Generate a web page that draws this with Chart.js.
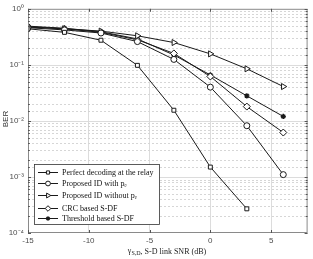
<!DOCTYPE html>
<html>
<head>
<meta charset="utf-8">
<script src="https://cdn.jsdelivr.net/npm/chart.js@4/dist/chart.umd.min.js"></script>
<style>
  html, body { margin: 0; padding: 0; background: #fff; }
  #wrap { width: 313px; height: 259px; }
</style>
</head>
<body>
<div id="wrap"><canvas id="berChart"></canvas></div>
<script>
// SNR points (dB) and BER curves
const snr = [-15, -12, -9, -6, -3, 0, 3, 6];
const perfectRelay = [0.44, 0.38, 0.275, 0.098, 0.0155, 0.0015, 0.00027];
const idWithPe = [0.46, 0.42, 0.37, 0.26, 0.125, 0.04, 0.0082, 0.0011];
const idWithoutPe = [0.47, 0.44, 0.40, 0.33, 0.25, 0.157, 0.085, 0.041];
const crcSdf = [0.48, 0.44, 0.38, 0.28, 0.16, 0.062, 0.018, 0.0062];
const thresholdSdf = [0.49, 0.45, 0.39, 0.29, 0.15, 0.066, 0.028, 0.012];
const legendLabels = [
    'Perfect decoding at the relay',
    'Proposed ID with p\u2091',
    'Proposed ID without p\u2091',
    'CRC based S-DF',
    'Threshold based S-DF'
];
const xTicks = [-15, -10, -5, 0, 5];

const lineColor = '#1a1a1a';
const sup = { '0': '\u2070', '1': '\u00b9', '2': '\u00b2', '3': '\u00b3', '4': '\u2074', '-': '\u207b' };
const isDecade = (v) => Math.abs(Math.log10(v) - Math.round(Math.log10(v))) < 1e-6;

const toPoints = (arr) => arr.map((v, i) => ({ x: snr[i], y: v }));

const makeSet = (label, data, style, extra) => Object.assign({
    label: label,
    data: toPoints(data),
    borderColor: lineColor,
    backgroundColor: '#fff',
    borderWidth: 1,
    pointStyle: style,
    pointRadius: 3,
    pointBorderWidth: 1,
    pointBorderColor: lineColor,
    pointBackgroundColor: '#fff',
    tension: 0
}, extra || {});

const datasets = [
    makeSet(legendLabels[0], perfectRelay, 'rect', { pointRadius: 2.8 }),
    makeSet(legendLabels[1], idWithPe, 'circle'),
    makeSet(legendLabels[2], idWithoutPe, 'triangle', { pointRotation: 90, pointRadius: 3.5 }),
    makeSet(legendLabels[3], crcSdf, 'rectRot', { pointRadius: 3.5 }),
    makeSet(legendLabels[4], thresholdSdf, 'star', { pointBorderWidth: 1.4, pointRadius: 2.6, pointBackgroundColor: lineColor })
];

function drawMarker(ctx, ds, x, y) {
    ctx.save();
    ctx.strokeStyle = lineColor;
    ctx.fillStyle = ds.pointBackgroundColor;
    ctx.lineWidth = ds.pointBorderWidth;
    Chart.helpers.drawPoint(ctx, {
        pointStyle: ds.pointStyle,
        radius: ds.pointRadius * 0.8,
        rotation: ds.pointRotation || 0,
        borderWidth: ds.pointBorderWidth
    }, x, y);
    ctx.restore();
}

// grid, box, inner ticks, legend and axis titles in MATLAB style
const matlabFrame = {
    id: 'matlabFrame',
    beforeDatasetsDraw(chart) {
        const { ctx, chartArea: a } = chart;
        const ys = chart.scales.y;
        ctx.save();
        ctx.lineWidth = 1;
        ys.ticks.forEach(t => {
            const py = Math.round(ys.getPixelForValue(t.value)) + 0.5;
            if (py <= a.top + 1 || py >= a.bottom - 1) return;
            if (isDecade(t.value)) {
                ctx.setLineDash([]);
                ctx.strokeStyle = '#dcdcdc';
            } else {
                ctx.setLineDash([2, 2]);
                ctx.strokeStyle = '#d6d6d6';
            }
            ctx.beginPath();
            ctx.moveTo(a.left, py);
            ctx.lineTo(a.right, py);
            ctx.stroke();
        });
        ctx.restore();
    },
    afterDraw(chart) {
        const { ctx, chartArea: a } = chart;
        const xs = chart.scales.x, ys = chart.scales.y;
        ctx.save();
        // box
        ctx.strokeStyle = '#8a8a8a';
        ctx.lineWidth = 1;
        ctx.strokeRect(a.left + 0.5, a.top + 0.5, a.right - a.left - 1, a.bottom - a.top - 1);
        // inner ticks
        ctx.strokeStyle = '#555';
        ys.ticks.forEach(t => {
            const py = Math.round(ys.getPixelForValue(t.value)) + 0.5;
            const len = isDecade(t.value) ? 3 : 1.8;
            ctx.beginPath();
            ctx.moveTo(a.left, py); ctx.lineTo(a.left + len, py);
            ctx.moveTo(a.right, py); ctx.lineTo(a.right - len, py);
            ctx.stroke();
        });
        xTicks.forEach(v => {
            const px = Math.round(xs.getPixelForValue(v)) + 0.5;
            ctx.beginPath();
            ctx.moveTo(px, a.bottom); ctx.lineTo(px, a.bottom - 3);
            ctx.moveTo(px, a.top); ctx.lineTo(px, a.top + 3);
            ctx.stroke();
        });

        // legend
        const lx = 34.5, ly = 164.5, lw = 125, lh = 60;
        ctx.fillStyle = '#fff';
        ctx.fillRect(lx, ly, lw, lh);
        ctx.strokeStyle = '#333';
        ctx.lineWidth = 0.8;
        ctx.strokeRect(lx, ly, lw, lh);
        const rows = [172, 183, 195, 208, 218];
        ctx.font = '8px "Liberation Serif", "Times New Roman", serif';
        ctx.textBaseline = 'middle';
        chart.data.datasets.forEach((ds, i) => {
            const ry = rows[i] + 0.5;
            ctx.strokeStyle = lineColor;
            ctx.lineWidth = 1;
            ctx.beginPath();
            ctx.moveTo(38, ry); ctx.lineTo(58, ry);
            ctx.stroke();
            drawMarker(ctx, ds, 48, ry);
            ctx.fillStyle = '#111';
            ctx.fillText(ds.label, 62, ry);
        });

        // y title
        ctx.save();
        ctx.translate(6, 119);
        ctx.rotate(-Math.PI / 2);
        ctx.font = '8px "Liberation Sans", Arial, sans-serif';
        ctx.fillStyle = '#333';
        ctx.textAlign = 'center';
        ctx.textBaseline = 'middle';
        ctx.fillText('BER', 0, 0);
        ctx.restore();

        // x title with subscript
        const ty = 252;
        ctx.fillStyle = '#222';
        ctx.textBaseline = 'middle';
        ctx.textAlign = 'left';
        const big = '8px "Liberation Serif", "Times New Roman", serif';
        const small = '6px "Liberation Serif", "Times New Roman", serif';
        ctx.font = big;
        const w1 = ctx.measureText('\u03b3').width;
        ctx.font = small;
        const w2 = ctx.measureText('S,D').width;
        ctx.font = big;
        const rest = ', S-D link SNR (dB)';
        const w3 = ctx.measureText(rest).width;
        let tx = 167 - (w1 + w2 + w3) / 2;
        ctx.fillText('\u03b3', tx, ty - 1);
        tx += w1;
        ctx.font = small;
        ctx.fillText('S,D', tx, ty + 1.5);
        tx += w2;
        ctx.font = big;
        ctx.fillText(rest, tx, ty);
        ctx.restore();
    }
};

new Chart(document.getElementById('berChart').getContext('2d'), {
    type: 'line',
    data: { datasets: datasets },
    options: {
        responsive: true,
        maintainAspectRatio: false,
        animation: false,
        layout: { padding: { top: 5, right: 1, left: 0, bottom: 0 } },
        plugins: {
            legend: { display: false },
            tooltip: { enabled: false }
        },
        scales: {
            x: {
                type: 'linear',
                min: -15,
                max: 8,
                afterFit: (s) => { s.height = 26; },
                afterBuildTicks: (s) => { s.ticks = xTicks.map(v => ({ value: v })); },
                grid: {
                    color: (c) => (c.tick && (c.tick.value === -15) ? 'rgba(0,0,0,0)' : '#dcdcdc'),
                    drawTicks: false
                },
                border: { display: false },
                ticks: {
                    padding: 3,
                    color: '#4d4d4d',
                    font: { size: 8, family: '"Liberation Sans", Arial, sans-serif' }
                }
            },
            y: {
                type: 'logarithmic',
                min: 1e-4,
                max: 1,
                afterFit: (s) => { s.width = 28; },
                grid: { display: false, drawTicks: false },
                border: { display: false },
                ticks: {
                    autoSkip: false,
                    padding: 4,
                    color: '#4d4d4d',
                    font: { size: 8, family: '"Liberation Sans", Arial, sans-serif' },
                    callback: (v) => {
                        if (!isDecade(v)) return '';
                        const e = String(Math.round(Math.log10(v)));
                        return '10' + e.split('').map(ch => sup[ch]).join('');
                    }
                }
            }
        }
    },
    plugins: [matlabFrame]
});
</script>
</body>
</html>
